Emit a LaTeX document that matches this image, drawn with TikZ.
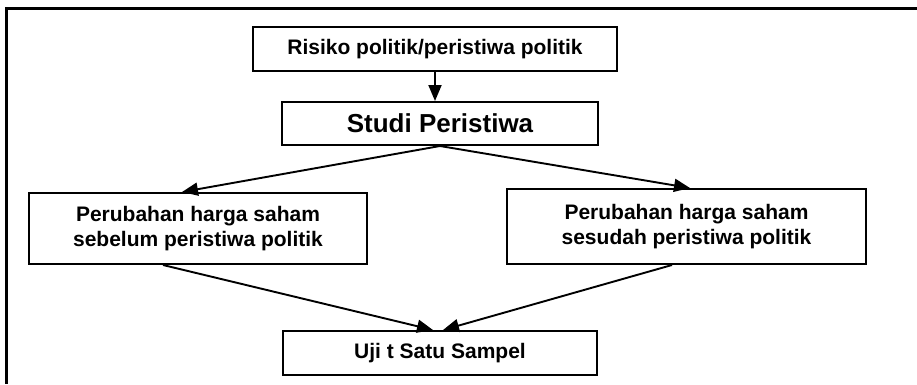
\documentclass[tikz,border=0pt]{standalone}
\usepackage{fontspec}
\setmainfont{Liberation Sans}
\usepackage{tikz}
\usetikzlibrary{arrows.meta,positioning}
\tikzset{
  box/.style={draw, line width=2pt, align=center, inner sep=0pt, fill=white, font=\bfseries\fontsize{21}{25}\selectfont},
  process/.style={box},
  bigtext/.style={box, font=\bfseries\fontsize{26}{30}\selectfont},
  line/.style={-{Triangle[length=16pt,width=13pt]}, line width=1.9pt}
}

\begin{document}
\begin{tikzpicture}[x=1pt, y=-1pt]
  \useasboundingbox (0,0) rectangle (917,384);

  % frame
  \draw[line width=3pt] (917,8) -- (6,8) -- (6,384);

  \node[process, minimum width=364pt, minimum height=44pt] (risiko) at (435,49) {Risiko politik/peristiwa politik};
  \node[bigtext, minimum width=316pt, minimum height=43pt] (studi) at (440,123.5) {Studi Peristiwa};
  \node[process, minimum width=338pt, minimum height=71pt] (sebelum) at (198,228.5) {Perubahan harga saham\\sebelum peristiwa politik};
  \node[process, minimum width=359pt, minimum height=75pt] (sesudah) at (686.5,226.5) {Perubahan harga saham\\sesudah peristiwa politik};
  \node[process, minimum width=314pt, minimum height=44pt] (uji) at (440,353) {Uji t Satu Sampel};

  \draw[line] (risiko.south) -- (risiko.south |- studi.north);
  \draw[line] (studi.south) -- ([xshift=-16pt]sebelum.north);
  \draw[line] (studi.south) -- ([xshift=3.5pt]sesudah.north);

  % ke uji t
  \draw[line] ([xshift=-35pt]sebelum.south) -- ([xshift=-7pt]uji.north);
  \draw[line] ([xshift=-14.5pt]sesudah.south) -- ([xshift=3pt]uji.north);
\end{tikzpicture}
\end{document}
